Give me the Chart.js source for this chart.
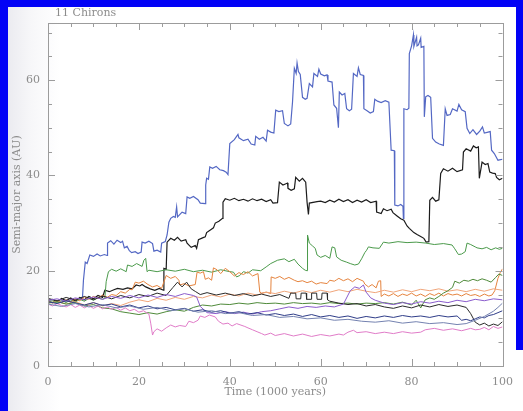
<!DOCTYPE html>
<html>
<head>
<meta charset="utf-8">
<script src="https://cdn.jsdelivr.net/npm/chart.js@4/dist/chart.umd.min.js"></script>
<style>
  html, body { margin: 0; padding: 0; background: #ffffff; }
  body { width: 523px; height: 411px; position: relative; overflow: hidden; }
  #plot { position: absolute; left: 0; top: 0; display: block; }
</style>
</head>
<body>
<canvas id="plot" width="523" height="411"></canvas>
<script>
// Semi-major axis (AU) of 11 Chiron clones versus time (1000 years).
// Each series: [time, semi-major axis] pairs.
const cloneBlue = [[0,13.5],[1,13.3],[2,13.6],[3,13.4],[4,13.8],[5,13.5],[6,14.0],[7,14.2],[7.6,14.5],[7.8,18],[8.2,21.8],[8.6,21.5],[9.2,23.3],[10,23.0],[10.8,23.5],[11.5,23.1],[12.4,23.4],[13.0,23.2],[13.1,25.8],[13.8,26.3],[14.5,25.6],[15.2,26.4],[16.0,25.9],[16.4,26.2],[16.8,24.8],[17.4,25.1],[17.9,24.2],[18.4,23.8],[19.2,24.0],[19.8,23.6],[20.5,23.9],[20.7,26.0],[21.4,25.8],[22.2,26.2],[23.0,25.7],[23.3,24.1],[24.0,24.3],[24.8,23.9],[25.0,25.8],[25.8,26.1],[26.2,27.5],[26.6,30.2],[27.0,31.0],[27.6,31.4],[28.0,31.2],[28.3,33.4],[28.5,31.3],[29.5,32.3],[30.3,32.0],[30.6,35.5],[31.2,35.2],[32,35.6],[33,34.9],[33.5,34.2],[34.6,34.1],[34.7,38],[34.9,39.4],[35.3,39.2],[35.6,41.8],[36.2,41.5],[37,41.9],[37.8,41.2],[38.6,41.0],[39.2,40.7],[39.6,40.2],[40.0,46.7],[41,47.5],[41.8,48.6],[42,47.9],[43,47.3],[44,47.6],[44.7,46.6],[45.5,46.4],[45.7,48.2],[46.5,47.6],[47.3,48.0],[48.0,47.2],[48.3,49.5],[49,49.1],[49.7,48.9],[50.1,53.7],[50.8,53.4],[51.6,53.6],[52.0,50.9],[52.8,50.4],[53.4,50.8],[53.8,55.4],[54.2,62.5],[54.6,61.4],[54.8,63.6],[55.1,61.8],[55.5,61.2],[56.0,56.4],[56.6,56.0],[57.0,56.2],[57.5,59.3],[58.2,58.6],[58.5,61.4],[59.3,60.8],[59.6,62.3],[60,61.3],[60.8,60.9],[61.4,61.1],[61.6,59.8],[62.5,59.6],[62.9,54.8],[63.5,54.1],[63.9,50.0],[64.1,57.5],[64.7,56.9],[65.3,57.2],[65.7,54.0],[66.3,53.6],[66.8,53.9],[67.2,61.4],[68,60.8],[68.3,62.6],[68.7,61.2],[69.4,61.0],[69.5,54.0],[70.2,53.6],[70.9,53.1],[71.6,53.4],[71.9,56.0],[72.5,55.6],[73.3,55.3],[74.2,55.7],[75.0,55.4],[75.5,45.3],[76.2,45.2],[76.3,33.8],[77,33.6],[77.6,33.9],[78.1,33.5],[78.2,31.0],[78.3,54.0],[79.0,53.8],[79.4,54.1],[79.5,65.6],[80.0,67.2],[80.4,69.5],[80.5,67.1],[81.1,69.0],[81.2,67.2],[81.5,67.4],[82.0,68.8],[82.1,66.9],[82.7,67.1],[82.8,52.3],[83.1,56.5],[83.6,56.8],[84.2,56.4],[84.6,47.8],[85.3,47.0],[86.1,46.6],[87,46.3],[87.4,54.0],[87.8,52.6],[88.5,52.8],[89,54.0],[90,53.5],[90.4,54.9],[91,53.8],[91.8,53.4],[92.2,49.9],[92.8,48.8],[93.5,49.6],[94.3,48.6],[95,49.3],[95.6,50.2],[96,48.9],[97.3,49.2],[97.6,45.3],[98.2,44.6],[99,43.2],[100,43.4]];

const cloneBlack = [[0,13.8],[1,14.0],[2,13.5],[3,14.2],[4,13.7],[5,14.3],[6,13.6],[7,14.4],[8,13.9],[9,14.6],[10,14.1],[11,14.8],[12,14.4],[12.5,15.9],[13.5,15.6],[14.5,16.0],[15.3,16.3],[16.5,16.1],[17.5,16.4],[18.5,16.2],[19.4,17.0],[20.2,16.8],[20.7,17.1],[21.5,16.6],[22.5,16.2],[23.5,15.9],[24.5,16.3],[25.4,15.9],[25.5,20.5],[26.0,20.3],[26.2,26.0],[27.0,26.8],[27.8,26.4],[28.5,27.0],[29.3,26.2],[30.3,26.5],[30.6,25.8],[31.5,24.9],[32.4,25.3],[32.7,24.7],[33.1,26.5],[34,26.9],[34.6,27.1],[34.9,28.0],[35.8,28.6],[36.4,29.0],[36.8,30.0],[37.6,30.4],[38.4,31.0],[38.5,34.4],[39,35.1],[40,34.8],[41,35.2],[42,34.7],[43,35.0],[44,34.6],[45,35.1],[46,34.7],[47,35.0],[48,34.5],[49,34.9],[49.5,34.2],[50.5,34.3],[50.9,38.6],[51.7,38.0],[52.7,38.4],[52.8,37.3],[53.5,36.9],[54.2,37.2],[54.5,39.6],[55.3,38.8],[56,39.4],[56.7,38.6],[57.0,34.4],[57.3,31.8],[57.5,34.2],[59.2,34.5],[60,34.6],[61,34.3],[62,34.8],[63,34.4],[64,35.0],[65,34.5],[66,34.9],[67,34.3],[68,34.8],[69,34.4],[70,34.9],[71,34.3],[72.2,34.6],[72.3,32.3],[73.3,32.0],[73.8,33.0],[74.6,32.6],[75.5,32.9],[75.9,32.2],[76.8,31.5],[77.6,30.9],[78.3,30.6],[79,29.4],[79.5,28.9],[80.5,28.0],[81.2,27.6],[82,27.2],[82.7,26.8],[83.2,26.0],[83.8,26.1],[84.0,34.8],[84.6,35.4],[85.3,34.6],[86,34.9],[86.4,40.4],[87,41.4],[88,40.9],[89,41.5],[90,40.8],[91.2,41.2],[91.4,44.9],[92,45.6],[93,45.1],[93.6,46.2],[94.2,45.8],[94.7,46.0],[94.9,39.4],[95.5,42.8],[96.2,42.3],[96.8,42.5],[97.2,40.7],[97.8,40.5],[98.4,40.4],[98.7,39.6],[99.3,39.1],[100,39.4]];

const cloneGreen = [[0,13.4],[1,13.7],[2,13.2],[3,13.8],[4,13.3],[5,13.9],[6,13.4],[7,14.0],[8,13.6],[9,14.2],[10,13.8],[11,14.3],[12,14.0],[12.5,14.2],[12.8,17.7],[13.3,19.8],[14,20.3],[15,19.9],[16,20.4],[17.2,19.8],[17.5,21.2],[18.5,20.9],[19.5,21.5],[20.7,20.9],[21.1,22.2],[21.5,22.6],[21.8,19.8],[22.2,20.1],[24,19.8],[26,20.2],[28,19.9],[30,20.3],[32,19.8],[34,20.1],[36,19.7],[38,20.2],[40,19.8],[40.8,19.7],[41.5,18.7],[42.2,19.0],[43,19.8],[44,19.5],[45,20.2],[46.8,20.0],[48,20.8],[49,21.5],[50.5,22.2],[52,22.5],[53,21.9],[54.2,22.4],[55,21.4],[56,20.5],[56.6,20.1],[57,20.0],[57.1,27.5],[57.5,25.8],[58.2,25.2],[58.8,24.7],[59.2,23.3],[60,22.8],[61,23.2],[62,22.6],[62.5,25.0],[63.1,24.8],[63.5,22.9],[64.5,22.2],[65.7,21.8],[66.5,21.5],[67.5,21.2],[68.3,21.4],[69,22.5],[69.7,23.8],[70.1,24.3],[70.5,25.0],[71.5,24.8],[72.9,24.7],[73.8,26.0],[75,25.8],[77,26.1],[79,25.9],[81,26.0],[83.1,25.8],[85,25.5],[87,25.7],[88.9,25.4],[89.5,24.6],[90.3,23.4],[91,23.5],[91.8,24.0],[92.2,25.8],[93,25.5],[94,25.0],[94.4,24.8],[95.5,24.6],[96.5,24.9],[97.5,24.4],[98.5,24.8],[99.3,24.5],[100,24.7]];

const cloneOrange = [[0,13.6],[1,13.2],[2,13.8],[3,13.3],[4,13.9],[5,13.4],[6,14.1],[7,13.7],[8,14.5],[9,14.0],[10,14.6],[11,14.2],[12,14.9],[13,14.4],[14,15.0],[15,14.8],[16,15.6],[17,15.3],[18,16.1],[18.5,16.0],[19.2,17.6],[20,17.4],[21,17.8],[22,17.1],[23,16.6],[24,16.9],[25,16.3],[26,19.0],[27,18.4],[28,18.8],[28.8,18.0],[29,17.0],[30,17.3],[31,16.8],[32.4,17.1],[32.8,19.7],[33.5,19.5],[34.2,19.8],[34.6,18.2],[35.3,18.5],[36,18.0],[36.4,20.6],[37.2,20.2],[38,19.4],[39,20.5],[40,19.8],[41,18.9],[42,19.6],[43,19.2],[44,19.8],[45,18.9],[46.2,19.4],[46.6,15.5],[47,15.3],[48,15.5],[49,15.2],[49.1,18.7],[50,18.4],[51,18.8],[52,18.2],[53,18.6],[54.2,18.0],[55,17.7],[56,17.9],[57,17.5],[58,17.8],[59,17.2],[60,17.5],[61.4,17.3],[62,18.0],[63,17.8],[63.5,18.1],[64,18.4],[65,17.9],[66,18.3],[67,17.7],[68,18.4],[69.4,17.8],[69.7,17.2],[70.5,16.6],[71.3,17.1],[72.2,16.4],[72.7,17.8],[73.2,17.9],[73.3,14.6],[74,15.1],[75,14.7],[76,15.2],[77,14.6],[78,15.1],[79,14.8],[80,15.3],[81,14.7],[82,15.1],[83,14.6],[84,15.2],[85,14.8],[86,15.3],[87,14.7],[88,15.2],[89,14.9],[90,15.1],[91,14.7],[92,15.2],[93,14.8],[94,15.0],[95,14.6],[96,15.1],[97,14.7],[97.7,14.9],[98.3,15.8],[99,18.4],[99.5,19.6],[100,20.4]];

const clonePeach = [[0,13.2],[2,13.6],[4,13.0],[6,13.5],[8,12.8],[10,13.3],[12,12.6],[14,13.1],[16,12.7],[18,13.4],[20,13.9],[22,13.5],[24,14.2],[26,13.8],[28,14.4],[30,14.0],[32,14.6],[34,14.3],[36,14.9],[38,14.5],[40,15.1],[42,14.7],[44,15.3],[46,14.9],[48,15.5],[50,15.2],[52,15.7],[54,15.3],[56,15.8],[58,15.4],[60,15.9],[62,15.5],[64,16.0],[66,15.6],[68,16.1],[70,15.7],[72,15.4],[74,15.9],[76,15.5],[78,16.0],[80,15.6],[82,16.1],[84,15.8],[86,16.2],[88,15.7],[90,16.0],[92,15.6],[94,16.1],[96,15.7],[98,16.2],[100,15.9]];

const clonePink = [[0,13.0],[1,12.6],[2,13.1],[3,12.7],[4,12.4],[5,12.9],[6,12.3],[7,12.8],[8,12.2],[9,12.7],[10,12.1],[11,12.6],[12,12.0],[13,12.4],[14,11.9],[15,12.3],[16,11.7],[17,12.2],[18,11.6],[19,11.9],[20,11.3],[21,11.6],[22.2,10.9],[22.6,9.0],[23.0,6.5],[23.3,7.2],[24,7.8],[25,7.3],[26,8.0],[27,8.6],[28,8.2],[29,8.5],[30.3,8.3],[31,9.4],[32,9.1],[33,9.6],[33.5,10.5],[34.5,10.2],[35.5,10.7],[36.8,10.3],[37.5,9.4],[38.5,8.8],[39.6,9.0],[40.5,8.4],[41.5,8.9],[43.3,8.3],[44,8.0],[45,7.6],[46,7.2],[47,6.8],[47.7,6.5],[49,6.9],[50,6.4],[52,6.8],[54,6.3],[56,6.7],[58,6.2],[60,6.6],[62,6.3],[64,6.7],[65,6.5],[66,7.1],[67.2,7.5],[68,7.0],[70,7.2],[72,6.8],[74,7.1],[76,6.8],[78,7.2],[80,6.9],[82,7.1],[83,7.6],[85,7.9],[87,7.5],[89,7.8],[91,7.4],[93,7.9],[94,7.6],[95,7.7],[96,8.1],[97,7.6],[98,8.3],[99,7.9],[100,8.2]];

const cloneOlive = [[0,13.2],[2,13.5],[4,13.0],[6,13.3],[8,12.6],[10,12.9],[12,12.2],[14,12.0],[16,11.4],[18,11.1],[20,10.8],[22,11.2],[24,10.9],[26,11.4],[28,11.8],[30,11.5],[32,12.3],[34,12.8],[36,12.6],[38,13.0],[40,12.9],[42,13.2],[44,13.0],[46,13.3],[48,13.1],[50,13.2],[52,13.0],[54,13.3],[56,13.1],[58,13.2],[60,13.0],[62,13.3],[64,13.1],[66,13.2],[68,13.0],[70,13.2],[72,13.1],[74,13.3],[76,13.0],[78,13.4],[80,12.8],[81,13.8],[82,12.2],[83,13.9],[84,14.3],[85,14.0],[86,14.6],[87,15.3],[88,15.8],[89,16.5],[89.5,17.8],[90.5,17.4],[91.5,18.0],[92.5,17.8],[93.5,18.2],[94.5,17.9],[95.5,18.3],[96.5,18.0],[97.5,17.6],[98.5,18.6],[99.2,19.3],[100,19.0]];

const clonePurple = [[0,13.8],[2,14.1],[4,13.6],[6,14.3],[8,13.9],[10,14.5],[12,14.0],[14,14.6],[16,14.2],[18,14.8],[20,14.3],[22,14.9],[24,14.4],[26,15.0],[28,14.6],[30,15.2],[32,14.8],[32.7,14.5],[33.5,12.5],[35,11.2],[37,11.0],[39,11.4],[41,11.0],[43,11.3],[45,10.9],[47,11.4],[49,11.6],[51,12.0],[53,12.4],[55,12.1],[57,12.5],[59,12.3],[61,12.6],[63,12.4],[65,13.0],[66.5,15.8],[67.5,16.6],[68.5,16.3],[69.4,17.0],[70,15.5],[71,14.3],[72,13.8],[74,13.2],[76,12.9],[78,13.3],[80,13.0],[82,13.5],[84,13.2],[86,13.6],[88,13.3],[90,13.8],[92,13.5],[94,14.0],[96,13.7],[98,14.1],[100,13.9]];

const cloneNavy = [[0,13.5],[2,13.1],[4,13.7],[6,13.2],[8,12.8],[10,13.3],[12,12.7],[14,13.0],[16,12.4],[18,12.8],[20,12.2],[22,12.6],[24,12.0],[26,12.3],[28,11.8],[30,12.1],[32,11.5],[34,11.8],[36,11.3],[38,11.6],[40,11.1],[42,11.4],[44,10.9],[46,11.2],[48,10.7],[50,11.0],[52,10.6],[54,10.9],[56,10.4],[58,10.8],[60,10.3],[62,10.6],[64,10.2],[66,10.5],[68,10.0],[70,10.4],[72,10.1],[74,10.5],[76,10.2],[78,10.6],[80,10.3],[82,10.5],[84,10.2],[86,10.6],[88,10.3],[90,10.5],[91,9.6],[92,9.8],[93,9.5],[94,9.9],[95,10.3],[96,10.1],[97,10.6],[98,10.8],[99,11.2],[100,11.6]];

const cloneSlate = [[0,13.0],[3,12.5],[6,13.1],[9,12.4],[12,12.9],[15,12.2],[18,12.6],[21,11.9],[24,12.3],[27,11.6],[30,12.0],[33,11.3],[36,11.6],[39,11.0],[42,11.2],[45,10.6],[48,10.8],[51,10.2],[54,10.4],[57,9.9],[60,10.1],[63,9.6],[66,9.8],[69,9.4],[72,9.2],[75,9.5],[78,9.0],[81,9.3],[84,8.9],[87,9.1],[90,8.7],[92,8.9],[94,9.6],[96,10.4],[98,11.5],[99,12.3],[100,13.2]];

const cloneCharcoal = [[0,14.2],[2,13.7],[4,14.4],[6,13.8],[8,14.6],[10,13.9],[12,14.7],[14,14.1],[16,14.8],[18,14.3],[20,15.0],[22,14.6],[24,15.3],[26,14.8],[27.5,16.5],[28.5,17.6],[29.5,16.6],[30.5,17.6],[31.5,16.2],[32.5,15.6],[33.5,15.0],[35,15.4],[37,14.9],[39,15.3],[41,14.8],[43,15.2],[45,14.7],[47,15.1],[49,14.6],[51,15.0],[53,14.2],[53.4,15.3],[54.5,15.3],[54.6,14.1],[55.6,14.1],[55.7,15.3],[56.8,15.3],[56.9,14.0],[57.9,14.0],[58.0,15.3],[59.1,15.3],[59.2,14.0],[60.2,14.0],[60.3,15.3],[61.4,15.3],[61.5,13.9],[62,13.6],[64,13.2],[66,12.9],[68,13.1],[70,12.6],[72,12.9],[74,12.4],[76,12.1],[78,12.6],[80,12.2],[82,12.8],[84,12.4],[86,12.9],[88,12.5],[90,12.8],[92,12.3],[93,11.0],[94,9.2],[95,8.6],[96,9.0],[97,8.4],[98,8.8],[99,8.5],[100,9.3]];

// Axis labels
const timeTickLabels = [0, 20, 40, 60, 80, 100];
const axisTickLabels = [0, 20, 40, 60];

const series = [
  { data: cloneSlate,    color: '#7482b0', width: 1 },
  { data: cloneNavy,     color: '#2f3d88', width: 1 },
  { data: clonePink,     color: '#e07cc8', width: 1 },
  { data: clonePurple,   color: '#8a5ccc', width: 1 },
  { data: cloneCharcoal, color: '#2a2a2a', width: 1 },
  { data: cloneOlive,    color: '#4f8a3a', width: 1 },
  { data: clonePeach,    color: '#f0a57a', width: 1 },
  { data: cloneOrange,   color: '#e5843f', width: 1 },
  { data: cloneGreen,    color: '#4b9a4b', width: 1 },
  { data: cloneBlack,    color: '#1c1c1c', width: 1.2 },
  { data: cloneBlue,     color: '#5468c4', width: 1.2 }
];

const grey = '#8c8c8c';
const serif = 'DejaVu Serif';

// Page: blue border strips on the left, top and upper right, white sheet inside
const sheet = {
  id: 'sheet',
  beforeDraw(chart) {
    const { ctx, width, height } = chart;
    ctx.save();
    ctx.fillStyle = '#ffffff';
    ctx.fillRect(0, 0, width, height);
    const g = ctx.createLinearGradient(8, 0, 60, 0);
    g.addColorStop(0, '#ebebf0');
    g.addColorStop(0.45, '#f7f7f9');
    g.addColorStop(1, '#ffffff');
    ctx.fillStyle = g;
    ctx.fillRect(8, 7, width - 8, height - 7);
    ctx.fillStyle = '#0202f6';
    ctx.fillRect(0, 0, 8, height);
    ctx.fillRect(0, 0, width, 7);
    ctx.fillRect(516, 0, width - 516, 350);
    ctx.restore();
  }
};

// Frame, inward tick marks on all four sides and the panel caption
const frameAndTicks = {
  id: 'frameAndTicks',
  afterDatasetsDraw(chart) {
    const { ctx, chartArea: a, scales: { x, y } } = chart;
    ctx.save();
    ctx.strokeStyle = '#9c9c9c';
    ctx.lineWidth = 1;
    ctx.strokeRect(Math.round(a.left) + 0.5, Math.round(a.top) + 0.5,
                   Math.round(a.right - a.left), Math.round(a.bottom - a.top));
    ctx.beginPath();
    for (let v = x.min; v <= x.max; v += 5) {
      const px = Math.round(x.getPixelForValue(v)) + 0.5;
      const len = v % 20 === 0 ? 7 : 4;
      ctx.moveTo(px, a.bottom); ctx.lineTo(px, a.bottom - len);
      ctx.moveTo(px, a.top); ctx.lineTo(px, a.top + len);
    }
    for (let v = 0; v <= y.max; v += 5) {
      const py = Math.round(y.getPixelForValue(v)) + 0.5;
      const len = v % 20 === 0 ? 7 : 4;
      ctx.moveTo(a.left, py); ctx.lineTo(a.left + len, py);
      ctx.moveTo(a.right, py); ctx.lineTo(a.right - len, py);
    }
    ctx.stroke();
    ctx.fillStyle = grey;
    ctx.font = '11px "' + serif + '"';
    ctx.textBaseline = 'middle';
    ctx.fillText('11 Chirons', 55, 13);
    ctx.restore();
  }
};

new Chart(document.getElementById('plot'), {
  type: 'line',
  data: {
    datasets: series.map(s => ({
      data: s.data.map(([t, a]) => ({ x: t, y: a })),
      borderColor: s.color,
      borderWidth: s.width,
      pointRadius: 0,
      tension: 0,
      fill: false
    }))
  },
  options: {
    responsive: false,
    animation: false,
    devicePixelRatio: 1,
    layout: { padding: { top: 23, right: 15, left: 0, bottom: 0 } },
    plugins: { legend: { display: false }, tooltip: { enabled: false }, title: { display: false } },
    scales: {
      x: {
        type: 'linear', min: 0, max: 100,
        afterBuildTicks: s => { s.ticks = timeTickLabels.map(v => ({ value: v })); },
        afterFit: s => { s.height = 45; },
        grid: { display: false, drawTicks: false },
        border: { display: false },
        ticks: { color: grey, padding: 10, maxRotation: 0, font: { family: serif, size: 11 } },
        title: { display: true, text: 'Time (1000 years)', color: grey,
                 padding: { top: 0, bottom: 12 }, font: { family: serif, size: 11 } }
      },
      y: {
        type: 'linear', min: 0, max: 72,
        afterBuildTicks: s => { s.ticks = axisTickLabels.map(v => ({ value: v })); },
        afterFit: s => { s.width = 48; },
        grid: { display: false, drawTicks: false },
        border: { display: false },
        ticks: { color: grey, padding: 8, font: { family: serif, size: 11 } },
        title: { display: true, text: 'Semi-major axis (AU)', color: grey,
                 padding: { top: 11, bottom: 0 }, font: { family: serif, size: 11 } }
      }
    }
  },
  plugins: [sheet, frameAndTicks]
});
</script>
</body>
</html>
